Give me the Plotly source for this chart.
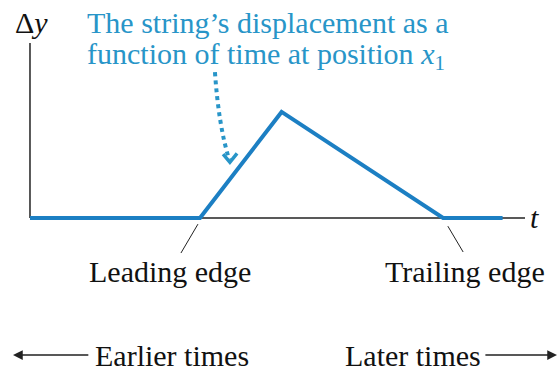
import plotly.graph_objects as go

# pulse seen at position x1 (time units, displacement units)
t_vals = [0, 5.0, 7.4, 12.15, 13.9]
dy_vals = [0, 0, 3.12, 0, 0]

title_lines = ["The string\u2019s displacement as a",
               "function of time at position <i>x</i><sub>1</sub>"]
edge_labels = ["Leading edge", "Trailing edge"]
time_labels = ["Earlier times", "Later times"]

BLUE_LINE = "#1c7fc3"
BLUE_TEXT = "#2895c8"
INK = "#222222"
FONT = "Liberation Serif"


def txt(size=30, color="#111111"):
    return dict(family=FONT, size=size, color=color)


fig = go.Figure()

fig.add_trace(go.Scatter(x=t_vals, y=dy_vals, mode="lines",
                         line=dict(color=BLUE_LINE, width=4),
                         hoverinfo="skip", showlegend=False))

shapes = [
    # axes
    dict(type="line", x0=0, y0=0, x1=0, y1=5.15, line=dict(color=INK, width=1.5)),
    dict(type="line", x0=0, y0=0, x1=14.56, y1=0, line=dict(color=INK, width=1.5)),
    # leader lines to the edges
    dict(type="line", x0=4.94, y0=-0.18, x1=4.44, y1=-1.03, line=dict(color=INK, width=1)),
    dict(type="line", x0=12.29, y0=-0.24, x1=12.74, y1=-1.0, line=dict(color=INK, width=1)),
    # dotted pointer from the caption
    dict(type="path", path="M 5.44,4.29 Q 5.55,2.7 5.86,1.72",
         line=dict(color=BLUE_TEXT, width=4, dash="dot")),
    dict(type="path", path="M 5.68,1.88 L 5.88,1.64 L 6.09,1.9",
         line=dict(color=BLUE_TEXT, width=3.5)),
]
# keep the blue pulse above the axis line
for s in shapes:
    s["layer"] = "below"

ann = [
    dict(x=0.05, y=5.76, text="\u0394<i>y</i>", xanchor="center", yanchor="middle",
         font=txt()),
    dict(x=14.85, y=0.02, text="<i>t</i>", xanchor="center", yanchor="middle",
         font=txt()),
    dict(x=1.62, y=5.76, text=title_lines[0], xanchor="left", yanchor="middle",
         font=txt(color=BLUE_TEXT)),
    dict(x=1.62, y=4.76, text=title_lines[1], xanchor="left", yanchor="middle",
         font=txt(color=BLUE_TEXT)),
    dict(x=4.12, y=-1.58, text=edge_labels[0], xanchor="center", yanchor="middle",
         font=txt()),
    dict(x=12.79, y=-1.58, text=edge_labels[1], xanchor="center", yanchor="middle",
         font=txt()),
    dict(x=1.85, y=-4.03, text=time_labels[0], xanchor="left", yanchor="middle",
         font=txt()),
    dict(x=13.32, y=-4.03, text=time_labels[1], xanchor="right", yanchor="middle",
         font=txt()),
    # time direction arrows
    dict(x=-0.5, y=-4.03, ax=1.76, ay=-4.03, xref="x", yref="y", axref="x", ayref="y",
         text="", showarrow=True, arrowhead=2, arrowsize=1.3, arrowwidth=1.5,
         arrowcolor=INK, font=txt()),
    dict(x=15.5, y=-4.03, ax=13.35, ay=-4.03, xref="x", yref="y", axref="x", ayref="y",
         text="", showarrow=True, arrowhead=2, arrowsize=1.3, arrowwidth=1.5,
         arrowcolor=INK, font=txt()),
]
for a in ann:
    a.setdefault("showarrow", False)

fig.update_layout(
    width=559, height=369,
    margin=dict(l=0, r=0, t=0, b=0),
    paper_bgcolor="white", plot_bgcolor="white",
    font=dict(family=FONT),
    xaxis=dict(range=[-0.882, 15.559], visible=False, fixedrange=True),
    yaxis=dict(range=[-4.441, 6.412], visible=False, fixedrange=True),
    shapes=shapes,
    annotations=ann,
)

fig.write_html("out.html", config={"displayModeBar": False},
               post_script="document.body.style.margin='0';")
